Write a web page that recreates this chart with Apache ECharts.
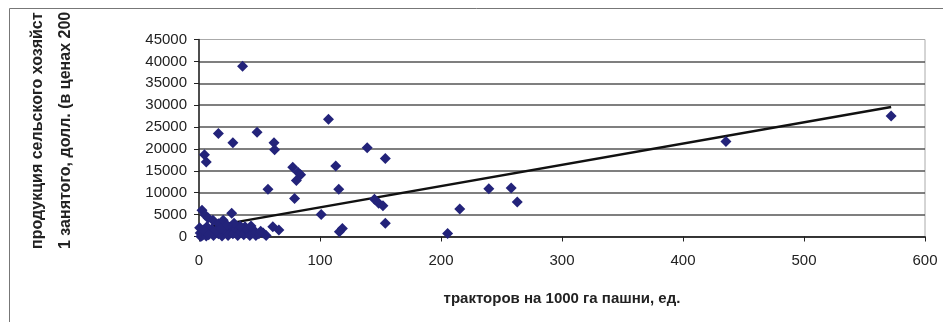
<!DOCTYPE html>
<html lang="ru" style="height: 100%">
<head>
  <meta charset="utf-8">
</head>
<body style="height: 100%; margin: 0; background: #fff">
  <div id="container" style="width: 943px; height: 322px"></div>

  <script type="text/javascript" src="https://cdn.jsdelivr.net/npm/echarts@6/dist/echarts.min.js"></script>

  <script type="text/javascript">
    // тракторов на 1000 га пашни / продукция на 1 занятого
    var tractors = [
      36, 107, 16, 48, 28, 62, 62.5, 4.5, 6, 139, 113, 154, 77.5, 82, 84, 80.5,
      115.5, 57, 79, 145, 148.5, 152, 101, 154, 118.5, 116, 205.5, 215.5, 239.5,
      258, 263, 435.5, 572,
      2.5, 5, 7.5, 11.5, 16, 20, 27, 25.5, 1, 1.5, 3, 6, 9, 12, 16, 19, 22, 24,
      28, 30.5, 32, 35, 37, 40, 42, 44.5, 47, 49.5, 53, 55.5, 61, 66, 38, 34,
      10.5, 6.5, 0.5, 14, 18, 29, 45, 51, 23, 3.5, 8, 43
    ];
    var output = [
      38900, 26800, 23500, 23800, 21400, 21400, 19800, 18700, 17000, 20300, 16100,
      17800, 15800, 14600, 14100, 12800, 10800, 10800, 8700, 8500, 7600, 7000,
      5000, 3000, 1800, 1100, 700, 6300, 10900, 11100, 7900, 21700, 27500,
      6000, 4900, 4200, 3700, 2900, 3700, 5300, 1900, 800, 0, 300, 100, 1000, 200,
      600, 100, 1000, 200, 600, 1700, 200, 1000, 400, 1500, 200, 800, 200, 600,
      800, 200, 2200, 1500, 2200, 2400, 1700, 2200, 2000, 1200, 1800, 3000, 1500,
      1200, 2600, 1500, 400, 2400
    ];
    // линия тренда (концы)
    var trendX = [0, 572];
    var trendY = [1800, 29600];

    var yTitle1 = 'продукция сельского хозяйст';
    var yTitle2 = '1 занятого, долл. (в ценах 200';
    var xTitle = 'тракторов на 1000 га пашни, ед.';

    var dom = document.getElementById('container');
    var myChart = echarts.init(dom, null, { renderer: 'canvas' });

    var points = tractors.map(function (x, i) { return [x, output[i]]; });
    var trend = trendX.map(function (x, i) { return [x, trendY[i]]; });

    var font = '"Liberation Sans", Arial, sans-serif';

    var option = {
      animation: false,
      grid: {
        left: 199,
        right: 18,
        top: 39.5,
        bottom: 85.5,
        show: true,
        borderColor: '#aaa',
        borderWidth: 1
      },
      xAxis: {
        type: 'value',
        min: 0,
        max: 600,
        interval: 100,
        name: xTitle,
        nameLocation: 'middle',
        nameGap: 55,
        nameTextStyle: { fontFamily: font, fontSize: 15, fontWeight: 'bold', color: '#222' },
        axisLine: { lineStyle: { color: '#222', width: 1.5 } },
        axisTick: { show: true, length: 5, lineStyle: { color: '#222' } },
        axisLabel: { fontFamily: font, fontSize: 15, color: '#222', margin: 17 },
        splitLine: { show: false }
      },
      yAxis: {
        type: 'value',
        min: 0,
        max: 45000,
        interval: 5000,
        axisLine: { show: true, lineStyle: { color: '#222', width: 1.5 } },
        axisTick: { show: true, length: 5, lineStyle: { color: '#222' } },
        axisLabel: {
          fontFamily: font, fontSize: 15, color: '#222', margin: 12,
          formatter: function (v) { return String(v); }
        },
        splitLine: { show: true, showMaxLine: false, lineStyle: { color: '#555', width: 1.5 } }
      },
      graphic: [
        {
          type: 'rect',
          shape: { x: 9.5, y: 8.5, width: 1200, height: 1200 },
          style: { fill: 'none', stroke: '#777', lineWidth: 1 },
          silent: true
        },
        {
          type: 'text',
          x: 38, y: 249,
          rotation: Math.PI / 2,
          style: {
            text: yTitle1,
            font: 'bold 16px ' + font,
            fill: '#222',
            textAlign: 'left',
            textVerticalAlign: 'middle'
          }
        },
        {
          type: 'text',
          x: 66, y: 249,
          rotation: Math.PI / 2,
          style: {
            text: yTitle2,
            font: 'bold 16px ' + font,
            fill: '#222',
            textAlign: 'left',
            textVerticalAlign: 'middle'
          }
        }
      ],
      series: [
        {
          type: 'line',
          data: trend,
          showSymbol: false,
          z: 3,
          lineStyle: { color: '#111', width: 2.5 }
        },
        {
          type: 'scatter',
          data: points,
          symbol: 'diamond',
          symbolSize: 11,
          z: 4,
          itemStyle: { color: '#23237a', opacity: 1 }
        }
      ]
    };

    myChart.setOption(option);
    window.addEventListener('resize', myChart.resize);
  </script>
</body>
</html>
